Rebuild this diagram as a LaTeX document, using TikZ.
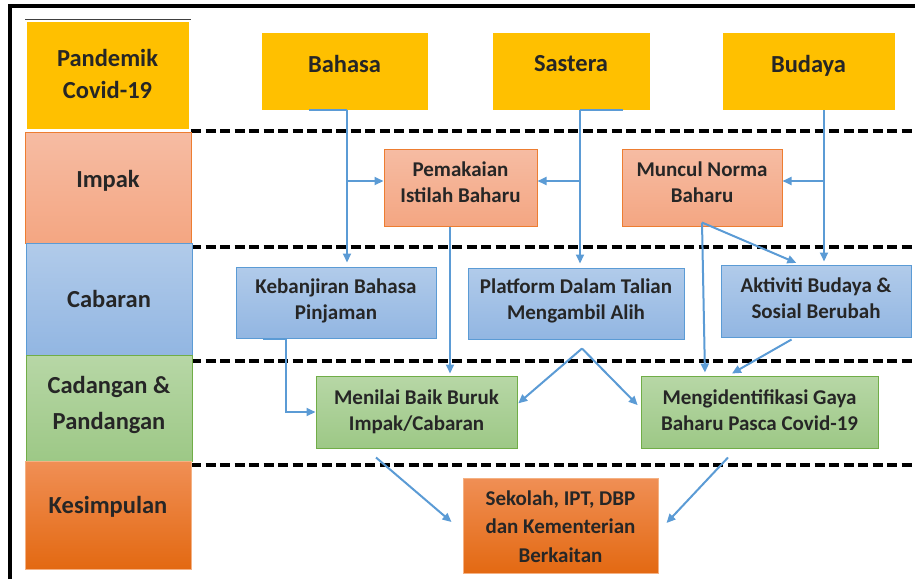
\documentclass[tikz,border=0pt]{standalone}
\usepackage{fontspec}
\setmainfont{Carlito}
\usetikzlibrary{arrows.meta}
\definecolor{txt}{HTML}{262626}
\definecolor{yel}{HTML}{FFC000}
\definecolor{salT}{HTML}{F6BCA3}
\definecolor{salB}{HTML}{F4A682}
\definecolor{salD}{HTML}{ED7D31}
\definecolor{bluT}{HTML}{B1CBEA}
\definecolor{bluB}{HTML}{92B6E2}
\definecolor{bluD}{HTML}{5B9BD5}
\definecolor{grnT}{HTML}{B7D7A6}
\definecolor{grnB}{HTML}{9DC886}
\definecolor{grnD}{HTML}{70AD47}
\definecolor{orgT}{HTML}{F08F55}
\definecolor{orgB}{HTML}{E36912}
\definecolor{orgD}{HTML}{F4B183}
\definecolor{cblue}{HTML}{5B9BD5}
\newcommand\tx[2]{\raisebox{#1pt}[\height][\depth]{\begin{tabular}{@{}c@{}}#2\end{tabular}}}
\tikzset{
  base/.style={inner sep=0pt, text=txt},
  big/.style={base, font=\fontsize{24.5}{32}\selectfont\bfseries},
  small/.style={base, font=\fontsize{21}{26}\selectfont\bfseries},
  sz/.style 2 args={minimum width=#1pt, minimum height=#2pt},
  yelbox/.style={fill=yel, draw=white, line width=0.8pt},
  salbox/.style={top color=salT, bottom color=salB, draw=salD, line width=1pt},
  blubox/.style={top color=bluT, bottom color=bluB, draw=bluD, line width=1pt},
  grnbox/.style={top color=grnT, bottom color=grnB, draw=grnD, line width=1pt},
  orgbox/.style={top color=orgT, bottom color=orgB, draw=orgD, line width=1pt},
  conn/.style={draw=cblue, line width=2pt},
  arr/.style={conn, -{Triangle[length=9pt,width=8pt]}},
  sepline/.style={black, line width=3.5pt, dash pattern=on 10pt off 4.5pt},
}
\begin{document}
\begin{tikzpicture}[x=1pt,y=-1pt]
\useasboundingbox (0,0) rectangle (915,579);
% frame
\draw[line width=3.5pt] (10,579) -- (10,6) -- (915,6);
\draw[black!75, line width=1pt] (25,19) -- (191,19);
% separators
\draw[sepline] (191,131) -- (915,131);
\draw[sepline] (191,247) -- (915,247);
\draw[sepline] (191,361) -- (915,361);
\draw[sepline] (191,465) -- (915,465);
% left column
\node[big, yelbox, sz={163}{108}] (pand) at (107.5,75) {\tx{-1}{Pandemik\\Covid-19}};
\node[big, salbox, sz={166}{111}] (impak) at (108,187.5) {\tx{6.5}{Impak}};
\node[big, blubox, sz={166}{112}] (cab) at (109,299) {\tx{-2}{Cabaran}};
\node[big, grnbox, sz={166}{106}, font=\fontsize{24.5}{35.5}\selectfont\bfseries] (cad) at (109,408) {\tx{3.5}{Cadangan \&\\Pandangan}};
\node[big, orgbox, sz={166}{108}] (kes) at (108,515) {\tx{7.5}{Kesimpulan}};
% top row
\node[big, yelbox, sz={167}{78}] (bahasa) at (344.5,71) {\tx{5.3}{Bahasa}};
\node[big, yelbox, sz={158}{78}] (sastera) at (571,71) {\tx{5.5}{Sastera}};
\node[big, yelbox, sz={173}{78}] (budaya) at (808.5,71) {\tx{5}{Budaya}};
% impak row
\node[small, salbox, sz={153}{77}] (pemak) at (460.5,187.5) {\tx{3.5}{Pemakaian\\Istilah Baharu}};
\node[small, salbox, sz={160}{77}] (muncul) at (702,187.5) {\tx{3}{Muncul Norma\\Baharu}};
% cabaran row
\node[small, blubox, sz={200}{71}] (keban) at (336,302.5) {\tx{1.2}{Kebanjiran Bahasa\\Pinjaman}};
\node[small, blubox, sz={216}{71}] (platform) at (576,303.5) {\tx{2}{Platform Dalam Talian\\Mengambil Alih}};
\node[small, blubox, sz={190}{72}] (aktiviti) at (816,301) {\tx{0.7}{Aktiviti Budaya \&\\Sosial Berubah}};
% cadangan row
\node[small, grnbox, sz={201}{72}] (menilai) at (416.5,412) {\tx{-0.3}{Menilai Baik Buruk\\Impak/Cabaran}};
\node[small, grnbox, sz={237}{72}] (mengid) at (759.5,412) {\tx{0}{Mengidentifikasi Gaya\\Baharu Pasca Covid-19}};
% kesimpulan
\node[small, orgbox, sz={195}{95}, font=\fontsize{21}{28.5}\selectfont\bfseries] (sekolah) at (560.5,525.5) {\tx{-2.3}{Sekolah, IPT, DBP\\dan Kementerian\\Berkaitan}};
% connectors: Bahasa
\coordinate (bj) at ([xshift=2.5pt]bahasa.south);
\coordinate (pw) at ([yshift=6.5pt]pemak.west);
\draw[conn] ([xshift=-35.5pt]bahasa.south) -- (bj);
\draw[arr, shorten >=4pt] (bj) -- ([xshift=11pt]keban.north);
\draw[arr] (bj |- pw) -- (pw);
% Sastera
\coordinate (sj) at ([xshift=9pt]sastera.south);
\coordinate (pe) at ([yshift=6.5pt]pemak.east);
\draw[conn] (sj) -- ([xshift=52pt]sastera.south);
\draw[arr, shorten >=4pt] (sj) -- ([xshift=4pt]platform.north);
\draw[arr] (sj |- pe) -- (pe);
% Budaya
\coordinate (bu) at ([xshift=15.5pt]budaya.south);
\coordinate (me) at ([yshift=6.5pt]muncul.east);
\draw[arr, shorten >=3pt] (bu) -- ([xshift=8pt]aktiviti.north);
\draw[arr] (bu |- me) -- (me);
% Pemakaian -> Menilai
\draw[arr, shorten >=2pt] ([xshift=-10.5pt]pemak.south) -- ([xshift=33.5pt]menilai.north);
% Muncul
\coordinate (mu) at ([yshift=4pt]muncul.south);
\draw[arr, shorten >=4pt] (mu) -- ([xshift=-16pt]aktiviti.north);
\draw[arr, shorten >=3pt] (mu) -- ([xshift=-54.5pt]mengid.north);
% Aktiviti -> Mengid
\draw[arr, shorten <=4pt, shorten >=4pt] ([xshift=-21pt]aktiviti.south) -- ([xshift=-31pt]mengid.north);
% Platform
\coordinate (pa) at ([xshift=6pt,yshift=-9pt]platform.south);
\draw[arr, shorten >=1pt] (pa) -- ([yshift=8pt]menilai.east);
\draw[arr, shorten >=4pt] (pa) -- ([yshift=4pt]mengid.west);
% Kebanjiran
\coordinate (kb) at ([xshift=-50pt]keban.south);
\draw[conn] ([xshift=-73pt]keban.south) -- (kb);
\draw[arr] (kb) |- (menilai.west);
% to Sekolah
\draw[arr] ([xshift=-40.5pt,yshift=-9pt]menilai.south) -- ([xshift=-11pt,yshift=3.5pt]sekolah.west);
\draw[arr] ([xshift=-31.5pt,yshift=-9pt]mengid.south) -- ([xshift=8pt,yshift=2.5pt]sekolah.east);
\end{tikzpicture}
\end{document}
